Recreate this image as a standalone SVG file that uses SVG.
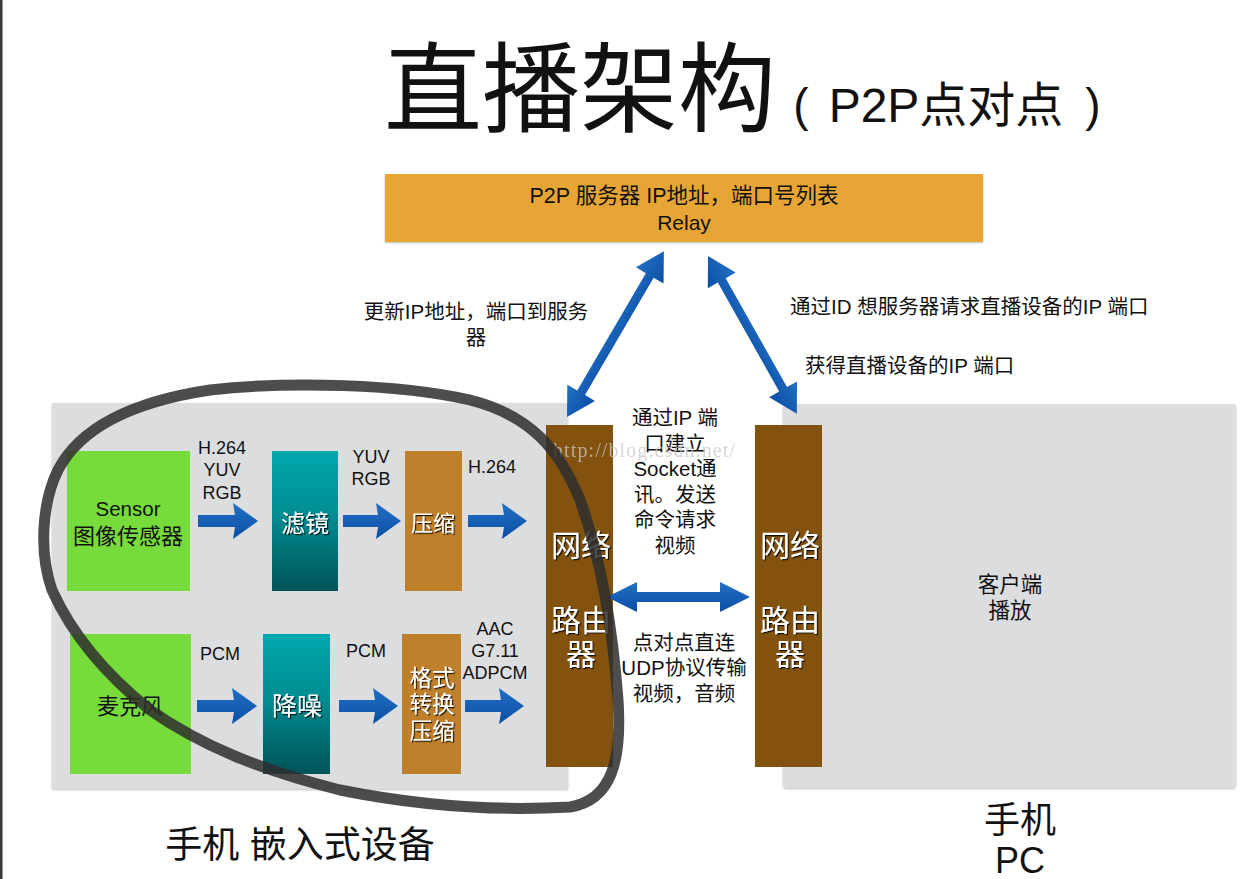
<svg xmlns="http://www.w3.org/2000/svg" width="1242" height="879" viewBox="0 0 1242 879">
<defs>
<linearGradient id="teal" x1="0" y1="0" x2="0" y2="1">
<stop offset="0" stop-color="#00A8AD"/><stop offset="0.45" stop-color="#008E93"/><stop offset="1" stop-color="#005358"/>
</linearGradient>
<linearGradient id="blue" x1="0" y1="0" x2="0" y2="1">
<stop offset="0" stop-color="#2270C4"/><stop offset="1" stop-color="#0B4EA5"/>
</linearGradient>
<filter id="ts" x="-20%" y="-20%" width="140%" height="140%">
<feDropShadow dx="1.2" dy="1.2" stdDeviation="0.6" flood-color="#000" flood-opacity="0.85"/>
</filter>
<filter id="bs" x="-5%" y="-5%" width="110%" height="110%">
<feDropShadow dx="0" dy="1" stdDeviation="1.2" flood-color="#000" flood-opacity="0.25"/>
</filter>
</defs>
<style>
text{font-family:"Liberation Sans","Noto Sans CJK SC",sans-serif;fill:#111;text-anchor:middle}
.lbl{font-size:18px}
.cj{font-size:20.5px}
.wh{fill:#fff;font-size:30px;filter:url(#ts)}
.panel{fill:#DCDDDF;filter:url(#bs)}
.green{fill:#77DC3B}
.org{fill:#BF7F2B}
.brown{fill:#83520E}
.arr{fill:url(#blue)}
</style>
<rect x="0" y="0" width="1242" height="879" fill="#fff"/>
<rect x="0" y="0" width="2.5" height="879" fill="#3a3a3a"/>

<g id="title">
<text x="580" y="124" style="font-size:98px">直播架构</text>
<text x="801" y="121" style="font-size:46px">(</text>
<text x="946" y="122" style="font-size:48px">P2P点对点</text>
<text x="1093" y="121" style="font-size:46px">)</text>
</g>

<g id="panel-left"><rect class="panel" x="52" y="403" width="516" height="386"/></g>
<g id="panel-right"><rect class="panel" x="783" y="404" width="453" height="384" rx="3"/>
<text x="1010" y="592" style="font-size:21.5px">客户端</text>
<text x="1010" y="618" style="font-size:21.5px">播放</text>
</g>

<g id="relay">
<rect x="385" y="174" width="598" height="68" fill="#E6A535" filter="url(#bs)"/>
<text x="684" y="203" style="font-size:21.5px">P2P 服务器 IP地址，端口号列表</text>
<text x="684" y="230" style="font-size:21px">Relay</text>
</g>

<g id="sensor"><rect class="green" x="67" y="451" width="123" height="140"/>
<text x="128" y="516" style="font-size:20.5px">Sensor</text>
<text x="128" y="544" style="font-size:22px">图像传感器</text></g>
<g id="filter"><rect x="272" y="451" width="66" height="140" fill="url(#teal)"/>
<text class="wh" x="305" y="532" style="font-size:24px">滤镜</text></g>
<g id="compress"><rect class="org" x="405" y="451" width="57" height="140"/>
<text class="wh" x="433" y="531" style="font-size:22px">压缩</text></g>

<g id="mic"><rect class="green" x="70" y="634" width="121" height="140"/>
<text x="130" y="714" style="font-size:22px">麦克风</text></g>
<g id="denoise"><rect x="263" y="634" width="67" height="140" fill="url(#teal)"/>
<text class="wh" x="297" y="715" style="font-size:25px">降噪</text></g>
<g id="format"><rect class="org" x="402" y="634" width="59" height="140"/>
<text class="wh" x="432" y="686" style="font-size:22.5px">格式</text>
<text class="wh" x="432" y="712" style="font-size:22.5px">转换</text>
<text class="wh" x="432" y="739" style="font-size:22.5px">压缩</text></g>

<g id="router-left"><rect class="brown" x="546" y="425" width="67" height="342"/>
<text class="wh" x="581" y="556">网络</text>
<text class="wh" x="581" y="631">路由</text>
<text class="wh" x="581" y="665">器</text></g>
<g id="router-right"><rect class="brown" x="755" y="425" width="67" height="342"/>
<text class="wh" x="790" y="556">网络</text>
<text class="wh" x="790" y="631">路由</text>
<text class="wh" x="790" y="665">器</text></g>

<g id="connectors">
<polygon class="arr" points="198,515 235,515 233,503 258,521 233,539 235,527 198,527"/>
<polygon class="arr" points="343,515 378,515 376,503 401,521 376,539 378,527 343,527"/>
<polygon class="arr" points="468,515 504,515 502,503 527,521 502,539 504,527 468,527"/>
<polygon class="arr" points="197,700 234,700 232,688 257,706 232,724 234,712 197,712"/>
<polygon class="arr" points="339,700 375,700 373,688 398,706 373,724 375,712 339,712"/>
<polygon class="arr" points="465,700 501,700 499,688 524,706 499,724 501,712 465,712"/>
<polygon class="arr" points="607,597 637,582 637,592 720,592 720,582 750,597 720,612 720,602 637,602 637,612"/>
<g transform="translate(567,417) rotate(-59.7)"><polygon class="arr" points="0,0 28,-16 28,-4.5 164,-4.5 164,-16 192,0 164,16 164,4.5 28,4.5 28,16"/></g>
<g transform="translate(708,256) rotate(60.6)"><polygon class="arr" points="0,0 28,-16 28,-4.5 153,-4.5 153,-16 181,0 153,16 153,4.5 28,4.5 28,16"/></g>
</g>

<g id="labels">
<text class="lbl" x="222" y="454">H.264</text>
<text class="lbl" x="222" y="476">YUV</text>
<text class="lbl" x="222" y="499">RGB</text>
<text class="lbl" x="371" y="463">YUV</text>
<text class="lbl" x="371" y="485">RGB</text>
<text class="lbl" x="492" y="473">H.264</text>
<text class="lbl" x="220" y="660">PCM</text>
<text class="lbl" x="366" y="657">PCM</text>
<text class="lbl" x="495" y="635">AAC</text>
<text class="lbl" x="495" y="657">G7.11</text>
<text class="lbl" x="495" y="679">ADPCM</text>
<text class="cj" x="476" y="319">更新IP地址，端口到服务</text>
<text class="cj" x="476" y="345">器</text>
<text class="cj" x="790" y="314" style="text-anchor:start">通过ID 想服务器请求直播设备的IP 端口</text>
<text class="cj" x="805" y="373" style="text-anchor:start">获得直播设备的IP 端口</text>
<text class="cj" x="675" y="425">通过IP 端</text>
<text class="cj" x="675" y="451">口建立</text>
<text class="cj" x="675" y="476">Socket通</text>
<text class="cj" x="675" y="502">讯。发送</text>
<text class="cj" x="675" y="527">命令请求</text>
<text class="cj" x="675" y="553">视频</text>
<text class="cj" x="684" y="650">点对点直连</text>
<text class="cj" x="684" y="675">UDP协议传输</text>
<text class="cj" x="684" y="701">视频，音频</text>
<text x="300" y="858" style="font-size:37px">手机 嵌入式设备</text>
<text x="1020" y="833" style="font-size:36px">手机</text>
<text x="1020" y="873" style="font-size:36px">PC</text>
<text x="644" y="457" textLength="182" style="font-family:'Liberation Serif',serif;font-size:20px;fill:#c8c8c8;opacity:0.75">http://blog.csdn.net/</text>
</g>

<path d="M58,470 C80,428 130,402 210,390 C290,381 400,384 470,400 C530,415 560,450 580,500 C598,550 612,620 618,700 C622,760 612,800 570,807 C500,811 420,806 340,790 C260,770 200,745 150,710 C100,670 70,630 52,590 C38,550 43,500 58,470 Z" fill="none" stroke="#2e2e2e" stroke-opacity="0.85" stroke-width="11" stroke-linejoin="round"/>
</svg>
